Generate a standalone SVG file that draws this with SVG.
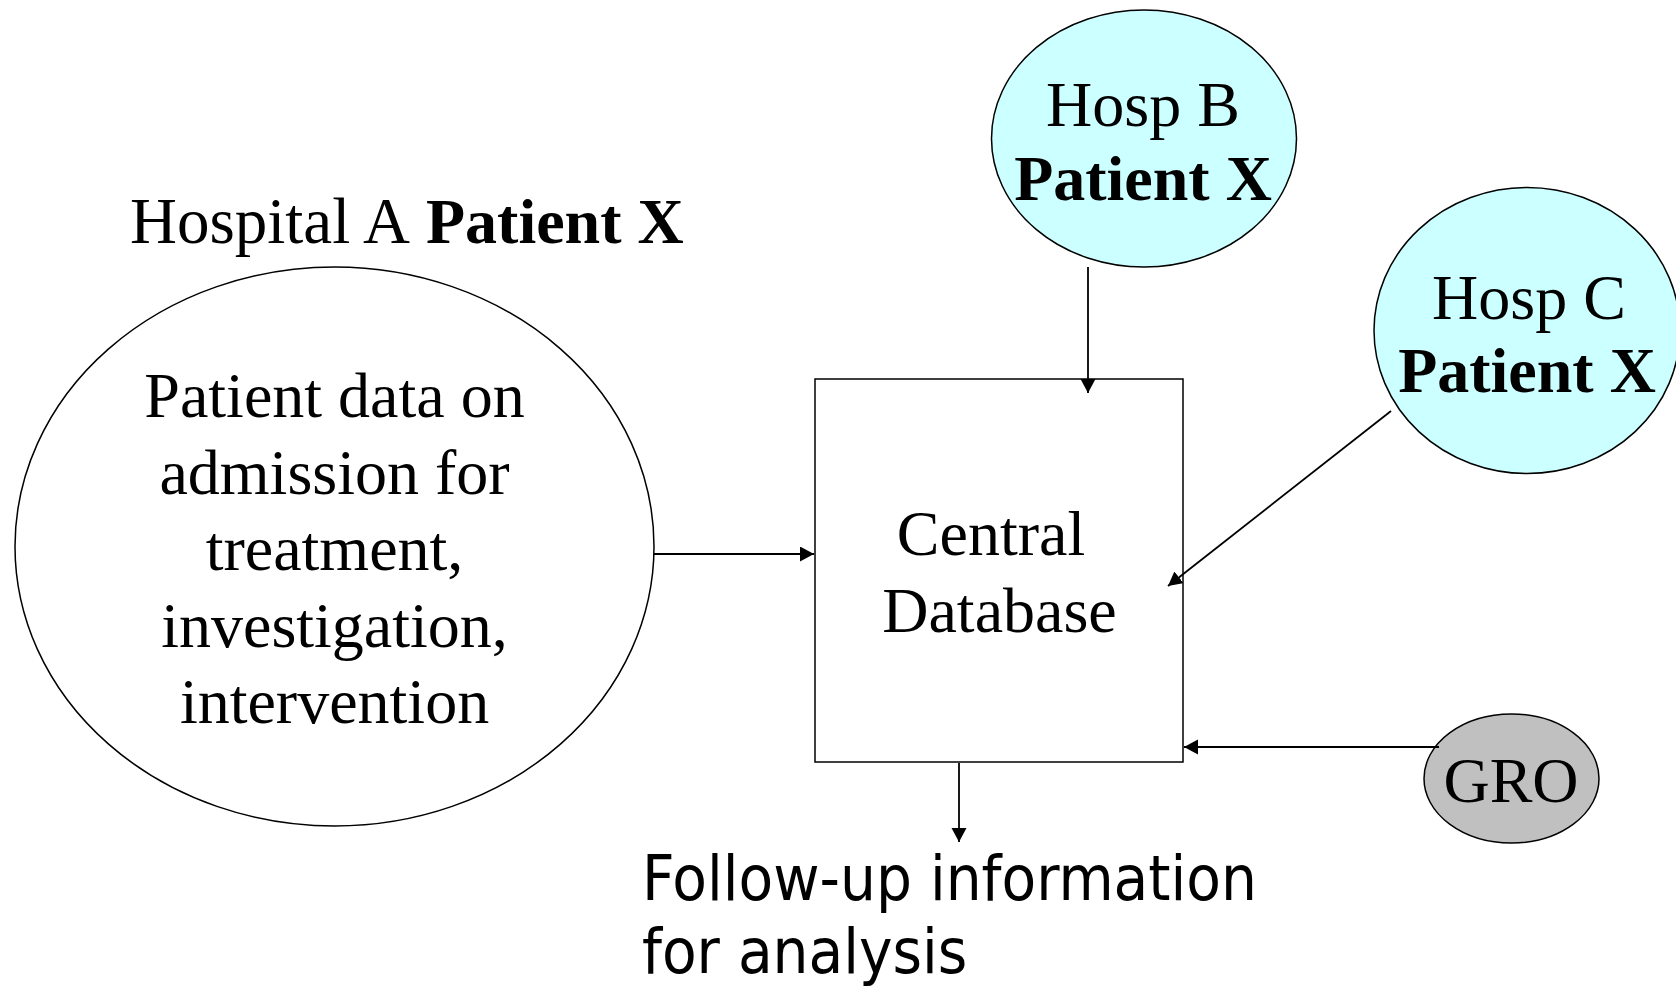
<svg xmlns="http://www.w3.org/2000/svg" width="1676" height="987" viewBox="0 0 1676 987">
<defs>
<style>
.serif{font-family:"Liberation Serif","Times New Roman",serif;font-size:64px;fill:#000}
.b{font-weight:bold}
.sans{font-family:"DejaVu Sans Condensed","DejaVu Sans",sans-serif;font-stretch:condensed;font-size:63px;fill:#000}
.shape{stroke:#000;stroke-width:1.5}
.conn{stroke:#000;stroke-width:1.8;fill:none}
</style>
<marker id="ah" markerUnits="userSpaceOnUse" markerWidth="16" markerHeight="16" refX="14" refY="7.5" orient="auto" viewBox="0 0 16 16">
<path d="M0,0 L14,7.5 L0,15 z" fill="#000"/>
</marker>
</defs>
<rect width="1676" height="987" fill="#fff"/>
<g id="hospital-a">
<text class="serif" x="130" y="243" style="font-size:65px">Hospital A <tspan class="b" x="426" style="font-size:64px">Patient X</tspan></text>
<ellipse class="shape" cx="334.5" cy="546.5" rx="319.5" ry="279.5" fill="#fff"/>
<text class="serif" text-anchor="middle"><tspan x="334.5" y="417">Patient data on</tspan><tspan x="334.5" y="493.5">admission for</tspan><tspan x="334.5" y="570">treatment,</tspan><tspan x="334.5" y="646.5">investigation,</tspan><tspan x="334.5" y="723">intervention</tspan></text>
</g>
<g id="central-database">
<rect class="shape" x="815" y="379" width="368" height="383" fill="#fff" stroke-width="2"/>
<text class="serif" text-anchor="middle"><tspan x="991" y="555">Central</tspan><tspan x="999.5" y="632">Database</tspan></text>
</g>
<g id="hosp-b">
<ellipse class="shape" cx="1144" cy="138.5" rx="152.5" ry="128.5" fill="#CCFFFF"/>
<text class="serif" text-anchor="middle"><tspan x="1143" y="126">Hosp B</tspan><tspan class="b" x="1143" y="200">Patient X</tspan></text>
</g>
<g id="hosp-c">
<ellipse class="shape" cx="1527" cy="330.5" rx="153" ry="143" fill="#CCFFFF"/>
<text class="serif" text-anchor="middle"><tspan x="1529" y="319">Hosp C</tspan><tspan class="b" x="1527" y="392">Patient X</tspan></text>
</g>
<g id="gro">
<ellipse class="shape" cx="1511.5" cy="778.5" rx="87.5" ry="64.5" fill="#C0C0C0"/>
<text class="serif" text-anchor="middle" x="1511" y="802">GRO</text>
</g>
<g id="follow-up">
<text class="sans"><tspan x="642" y="900">Follow-up information</tspan><tspan x="642" y="973">for analysis</tspan></text>
</g>
<g id="connectors">
<line class="conn" x1="654" y1="554" x2="814" y2="554" marker-end="url(#ah)"/>
<line class="conn" x1="1088" y1="267" x2="1088" y2="393" marker-end="url(#ah)"/>
<line class="conn" x1="1391" y1="411" x2="1168" y2="586" stroke-width="1.4" marker-end="url(#ah)"/>
<line class="conn" x1="1439" y1="747" x2="1184" y2="747" marker-end="url(#ah)"/>
<line class="conn" x1="959" y1="763" x2="959" y2="842" marker-end="url(#ah)"/>
</g>
</svg>
